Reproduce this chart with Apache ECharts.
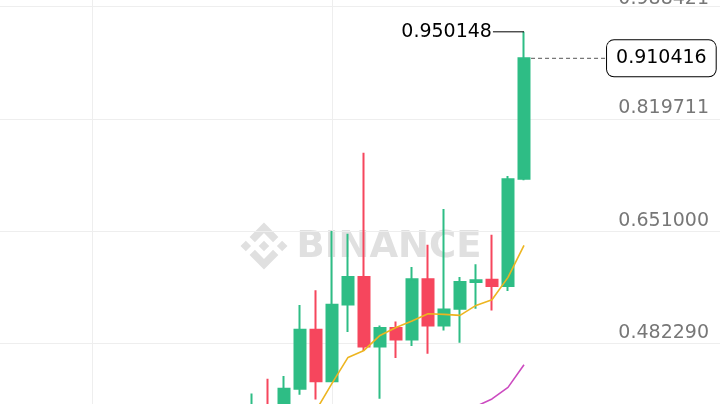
<!DOCTYPE html>
<html><head><meta charset="utf-8">
<script src="https://cdn.jsdelivr.net/npm/echarts@6/dist/echarts.min.js"></script>
<style>html,body{margin:0;padding:0;background:#fff}#c{width:720px;height:404px}</style>
</head><body><div id="c"></div>
<script>
// ---------- data ----------
const categories = ['1','2','3','4','5','6','7','8','9','10','11','12','13','14','15','16','17','18','19','20',
  '21','22','23','24','25','26','27','28','29','30','31','32','33','34','35','36','37','38','39','40',
  '41','42','43','44','45','46','47'];
const candleCats = ['17','18','19','20','21','22','23','24','25','26','27','28','29','30','31','32','33','34'];
const opens  = [0.3600,0.3880,0.3760,0.4147,0.5033,0.4261,0.5412,0.5822,0.4782,0.5057,0.4887,0.5788,0.5097,0.5348,0.5747,0.5783,0.5687,0.7299];
const closes = [0.3780,0.3700,0.4147,0.5033,0.4261,0.5408,0.5822,0.4782,0.5057,0.4887,0.5788,0.5097,0.5337,0.5747,0.5773,0.5687,0.7288,0.910416];
const lows   = [0.3530,0.3640,0.3700,0.4055,0.3987,0.4255,0.4997,0.4712,0.3997,0.4607,0.4787,0.4673,0.5022,0.4838,0.5348,0.5322,0.5615,0.7273];
const highs  = [0.4077,0.4297,0.4337,0.5402,0.5623,0.6513,0.6473,0.7689,0.5097,0.5157,0.5972,0.6308,0.6843,0.5822,0.6013,0.6458,0.7338,0.950148];
const ma7    = [null,null,null,null,0.3822,0.4227,0.4617,0.4722,0.4947,0.5067,0.5163,0.5273,0.5262,0.5247,0.5397,0.5483,0.5818,0.6298];
const ma25   = [null,null,null,null,null,null,null,null,null,null,null,null,null,0.3798,0.3882,0.3994,0.4167,0.4508];
const tickValues = [0.482290, 0.651000, 0.819711, 0.988421];
const tickLabels = ['0.482290', '0.651000', '0.819711', '0.988421'];
const vGridCats = ['7', '22'];
const highLabel = '0.950148';
const lastLabel = '0.910416';

// ---------- build ----------
const FONT = '"DejaVu Sans"';
const FS = 19;
const idxOf = c => candleCats.indexOf(c);
const candleData = categories.map(c => { const k = idxOf(c); return k < 0 ? '-' : [opens[k], closes[k], lows[k], highs[k]]; });
const ma7Data = categories.map(c => { const k = idxOf(c); return k < 0 ? null : ma7[k]; });
const ma25Data = categories.map(c => { const k = idxOf(c); return k < 0 ? null : ma25[k]; });
const lastK = candleCats.length - 1;
const lastX = categories.indexOf(candleCats[lastK]);
const highVal = highs[lastK];
const closeVal = closes[lastK];
const Y_MIN = 0.391811, Y_MAX = 0.997872;
const tickFmt = v => { const k = tickValues.findIndex(t => Math.abs(t - v) < 1e-6); return k >= 0 ? tickLabels[k] : ''; };
const topTick = tickValues[tickValues.length - 1];

// Binance logo shapes (24x24 unit box)
const logoShapes = [
  [[11.9885,0.0115],[19.3415,7.3405],[16.6241,10.0559],[11.9885,5.4203],[7.353,10.0798],[4.6356,7.3644]],
  [[16.624,13.9202],[19.3415,16.6356],[11.9885,23.9886],[4.6355,16.6366],[7.353,13.9202],[11.9885,18.5797]],
  [[21.2606,9.2836],[24,12],[21.2846,14.7164],[18.5682,12]],
  [[11.9886,9.2846],[14.7049,11.976],[11.9885,14.6934],[9.2721,12]],
  [[2.7164,9.2836],[5.4088,12],[2.7174,14.6924],[0,12]]
];
const WM = '#e0e0e0';

const chart = echarts.init(document.getElementById('c'), null, {renderer: 'canvas'});
chart.setOption({
  animation: false,
  backgroundColor: '#ffffff',
  grid: {left: -4, right: -12, top: 0, bottom: 0, containLabel: false, outerBoundsMode: 'none'},
  xAxis: [{
    type: 'category', data: categories, boundaryGap: false,
    axisLine: {show: false}, axisTick: {show: false}, axisLabel: {show: false},
    splitLine: {show: true, interval: (i) => vGridCats.includes(categories[i]), lineStyle: {color: '#eeeeee', width: 1}}
  }, {
    type: 'value', min: 0, max: categories.length - 1, show: false
  }],
  yAxis: [{
    type: 'value', position: 'right', min: Y_MIN, max: Y_MAX,
    axisLine: {show: false},
    axisTick: {show: false, customValues: tickValues},
    axisLabel: {
      inside: true, customValues: tickValues.filter(v => v !== topTick), margin: 23, verticalAlign: 'bottom',
      color: '#777777', fontSize: FS, fontFamily: FONT, padding: [0, 0, 1, 0], formatter: tickFmt
    },
    splitLine: {show: true, lineStyle: {color: '#eeeeee', width: 1}}
  }, {
    type: 'value', position: 'right', min: Y_MIN, max: Y_MAX,
    axisLine: {show: false},
    axisTick: {show: false, customValues: [topTick]},
    axisLabel: {
      inside: true, customValues: [topTick], margin: 23, verticalAlign: 'bottom', lineHeight: 14,
      color: '#777777', fontSize: FS, fontFamily: FONT, padding: 0, formatter: tickFmt
    },
    splitLine: {show: false}
  }],
  graphic: [
    {type: 'group', x: 240.5, y: 222.5, scaleX: 47 / 24, scaleY: 47 / 24, z: -10,
      children: logoShapes.map(pts => ({type: 'polygon', shape: {points: pts}, style: {fill: WM}}))},
    {type: 'text', z: -10, x: 296.5, y: 247, style: {text: 'BINANCE', fill: WM, font: 'bold 37px "DejaVu Sans"', verticalAlign: 'middle', align: 'left'}}
  ],
  series: [
    {
      type: 'candlestick', data: candleData, barWidth: 12,
      itemStyle: {color: '#2EBD85', color0: '#F6465D', borderColor: '#2EBD85', borderColor0: '#F6465D', borderWidth: 2}
    },
    {type: 'line', data: ma7Data, symbol: 'none', smooth: false, lineStyle: {color: '#EDB520', width: 1.6}, z: 3},
    {type: 'line', data: ma25Data, symbol: 'none', smooth: false, lineStyle: {color: '#CC4AC0', width: 1.6}, z: 3},
    {
      type: 'line', xAxisIndex: 1, z: 5, symbol: 'circle', symbolSize: 0,
      lineStyle: {color: '#000000', width: 1}, itemStyle: {color: '#000000'},
      data: [
        {value: [lastX - 1.94, highVal], label: {show: true, position: 'left', distance: 1, formatter: highLabel, color: '#000000', fontSize: FS, fontFamily: FONT}},
        {value: [lastX, highVal]}
      ]
    },
    {
      type: 'line', xAxisIndex: 1, z: 5, symbol: 'none',
      lineStyle: {color: '#555555', width: 1, type: [4, 3]},
      data: [[lastX + 0.44, closeVal], [lastX + 5.19, closeVal]],
      endLabel: {show: true, formatter: lastLabel, distance: 0, color: '#000000', fontSize: FS, fontFamily: FONT,
        backgroundColor: '#ffffff', borderColor: '#000000', borderWidth: 1, borderRadius: 7, padding: [9, 9, 8, 9], lineHeight: 19}
    }
  ]
});
</script></body></html>
